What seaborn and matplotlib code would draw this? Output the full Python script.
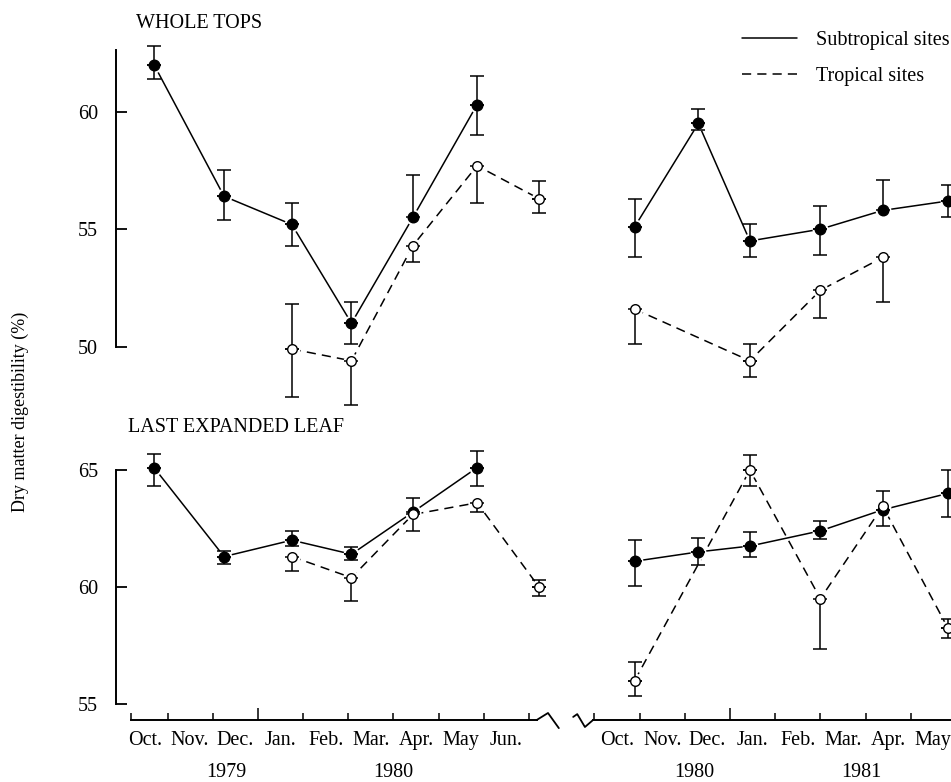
"""Dry matter digestibility of whole tops and last expanded leaf, two seasons."""

import numpy as np
import pandas as pd
import matplotlib
matplotlib.use("Agg")
import matplotlib.pyplot as plt
from matplotlib.lines import Line2D
import seaborn as sns

sns.set_theme(style="ticks", rc={
    "axes.edgecolor": "black", "text.color": "black", "xtick.color": "black",
    "ytick.color": "black", "axes.labelcolor": "black",
})
plt.rcParams["font.family"] = ["Liberation Serif", "DejaVu Serif"]

nan = np.nan

# ---------------------------------------------------------------------------
# Data
# ---------------------------------------------------------------------------
sites = ["Subtropical sites", "Tropical sites"]
months_79 = ["Oct.", "Nov.", "Dec.", "Jan.", "Feb.", "Mar.", "Apr.", "May", "Jun."]
months_80 = ["Oct.", "Nov.", "Dec.", "Jan.", "Feb.", "Mar.", "Apr.", "May"]
years_79 = ["1979", "1980"]
years_80 = ["1980", "1981"]

# sampling dates, in months after 1 October of each season
t_79 = [0.70, 2.25, 3.75, 5.07, 6.43, 7.85, 9.22]
t_80 = [0.89, 2.30, 3.44, 5.00, 6.38, 7.82]

# whole tops, 1979/80
wt_sub_79 = [62.0, 56.4, 55.2, 51.0, 55.5, 60.3, nan]
wt_sub_79_hi = [62.8, 57.5, 56.1, 51.9, 57.3, 61.5, nan]
wt_sub_79_lo = [61.4, 55.4, 54.3, 50.1, nan, 59.0, nan]
wt_trop_79 = [nan, nan, 49.9, 49.4, 54.3, 57.7, 56.3]
wt_trop_79_hi = [nan, nan, 51.8, nan, nan, nan, 57.05]
wt_trop_79_lo = [nan, nan, 47.85, 47.5, 53.6, 56.1, 55.7]

# whole tops, 1980/81
wt_sub_80 = [55.1, 59.5, 54.5, 55.0, 55.8, 56.2]
wt_sub_80_hi = [56.3, 60.1, 55.2, 56.0, 57.1, 56.9]
wt_sub_80_lo = [53.8, 59.2, 53.8, 53.9, nan, 55.5]
wt_trop_80 = [51.6, nan, 49.4, 52.4, 53.8, nan]
wt_trop_80_hi = [nan, nan, 50.1, nan, nan, nan]
wt_trop_80_lo = [50.1, nan, 48.7, 51.2, 51.9, nan]

# last expanded leaf, 1979/80
le_sub_79 = [65.1, 61.3, 62.0, 61.4, 63.2, 65.1, nan]
le_sub_79_hi = [65.7, 61.55, 62.4, 61.7, 63.8, 65.8, nan]
le_sub_79_lo = [64.3, 61.0, 61.75, 61.15, nan, 64.3, nan]
le_trop_79 = [nan, nan, 61.3, 60.4, 63.1, 63.6, 60.0]
le_trop_79_hi = [nan, nan, nan, nan, nan, nan, 60.3]
le_trop_79_lo = [nan, nan, 60.7, 59.4, 62.4, 63.2, 59.6]

# last expanded leaf, 1980/81
le_sub_80 = [61.1, 61.5, 61.75, 62.4, 63.3, 64.0]
le_sub_80_hi = [62.0, 62.1, 62.35, 62.8, 64.1, 65.0]
le_sub_80_lo = [60.05, 60.95, 61.3, 62.05, 62.6, 63.0]
le_trop_80 = [56.0, nan, 65.0, 59.5, 63.45, 58.25]
le_trop_80_hi = [56.8, nan, 65.65, nan, nan, 58.65]
le_trop_80_lo = [55.35, nan, 64.3, 57.35, nan, 57.8]

# ---------------------------------------------------------------------------
# Layout (pixels on a 951 x 782 canvas)
# ---------------------------------------------------------------------------
W, H = 951, 782
XLIM_79 = (-0.142, 9.73)
XLIM_80 = (-0.496, 7.89)
YLIM_TOP = (47.306, 63.051)
YLIM_BOT = (54.316, 66.282)
YEAR_POS_79 = [2.3, 6.0]
YEAR_POS_80 = [2.2, 5.9]
FS = 14.5


def _frame(records):
    parts = []
    for site, (t, v, hi, lo) in zip(sites, records):
        parts.append(pd.DataFrame({"month": t, "value": v, "hi": hi, "lo": lo, "site": site}))
    return pd.concat(parts, ignore_index=True)


def _axes(fig, x0, y0, x1, y1):
    return fig.add_axes([x0 / W, 1 - y1 / H, (x1 - x0) / W, (y1 - y0) / H])


def draw_series(ax, df):
    pts = df.dropna(subset=["value"])
    sns.lineplot(
        data=pts, x="month", y="value", style="site", style_order=sites,
        dashes={sites[0]: "", sites[1]: (6, 4)}, color="black", lw=1.1,
        estimator=None, legend=False, ax=ax, zorder=1,
    )
    # white halo so the lines stop just short of the symbols
    ax.scatter(pts["month"], pts["value"], s=130, color="white", lw=0, zorder=2, clip_on=False)

    up = pts.dropna(subset=["hi"])
    ax.errorbar(up["month"], up["value"], yerr=[np.zeros(len(up)), up["hi"] - up["value"]],
                fmt="none", ecolor="black", elinewidth=1.1, capsize=5, capthick=1.1,
                zorder=3, clip_on=False)
    dn = pts.dropna(subset=["lo"])
    ax.errorbar(dn["month"], dn["value"], yerr=[dn["value"] - dn["lo"], np.zeros(len(dn))],
                fmt="none", ecolor="black", elinewidth=1.1, capsize=5, capthick=1.1,
                zorder=3, clip_on=False)

    sub = pts[pts["site"] == sites[0]]
    trop = pts[pts["site"] == sites[1]]
    sns.scatterplot(data=sub, x="month", y="value", color="black", edgecolor="black",
                    s=58, linewidth=1, legend=False, ax=ax, zorder=4, clip_on=False)
    sns.scatterplot(data=trop, x="month", y="value", color="white", edgecolor="black",
                    s=48, linewidth=1, legend=False, ax=ax, zorder=4, clip_on=False)
    ax.set_xlabel("")
    ax.set_ylabel("")


def style_axes(ax, xlim, ylim, yticks=None, ybounds=None):
    ax.set_xlim(*xlim)
    ax.set_ylim(*ylim)
    ax.set_facecolor("none")
    for side in ("top", "right"):
        ax.spines[side].set_visible(False)
    if yticks is None:
        ax.spines["left"].set_visible(False)
        ax.set_yticks([])
    else:
        ax.set_yticks(yticks)
        ax.spines["left"].set_bounds(*ybounds)
        ax.spines["left"].set_linewidth(1.4)
        ax.tick_params(axis="y", direction="in", length=8, width=1.3, labelsize=FS, pad=13)


def month_axis(ax, months, years, year_pos, boundaries, bounds, zig):
    ax.spines["bottom"].set_bounds(*bounds)
    ax.spines["bottom"].set_linewidth(1.4)
    ax.set_xticks(boundaries)
    ax.set_xticklabels([])
    ax.set_xticks(np.arange(len(months)) + 0.5, labels=months, minor=True)
    ax.tick_params(axis="x", which="major", direction="in", length=5, width=1.1)
    ax.tick_params(axis="x", which="minor", length=0, labelsize=FS, pad=8)
    for tick in ax.xaxis.get_major_ticks():
        if abs(tick.get_loc() - 3) < 1e-6:  # start of the new year
            tick.tick1line.set_markersize(9)
    tr = ax.get_xaxis_transform()
    for yr, xp in zip(years, year_pos):
        ax.text(xp, -0.186, yr, transform=tr, ha="center", va="center", fontsize=FS)
    ax.plot(zig[0], zig[1], transform=tr, color="black", lw=1.3, clip_on=False)


fig = plt.figure(figsize=(W / 100, H / 100), dpi=100)
ax_tl = _axes(fig, 116, 40, 562, 410)
ax_tr = _axes(fig, 572, 40, 951, 410)
ax_bl = _axes(fig, 116, 440, 562, 720)
ax_br = _axes(fig, 572, 440, 951, 720)

draw_series(ax_tl, _frame([(t_79, wt_sub_79, wt_sub_79_hi, wt_sub_79_lo),
                           (t_79, wt_trop_79, wt_trop_79_hi, wt_trop_79_lo)]))
draw_series(ax_tr, _frame([(t_80, wt_sub_80, wt_sub_80_hi, wt_sub_80_lo),
                           (t_80, wt_trop_80, wt_trop_80_hi, wt_trop_80_lo)]))
draw_series(ax_bl, _frame([(t_79, le_sub_79, le_sub_79_hi, le_sub_79_lo),
                           (t_79, le_trop_79, le_trop_79_hi, le_trop_79_lo)]))
draw_series(ax_br, _frame([(t_80, le_sub_80, le_sub_80_hi, le_sub_80_lo),
                           (t_80, le_trop_80, le_trop_80_hi, le_trop_80_lo)]))

style_axes(ax_tl, XLIM_79, YLIM_TOP, [50, 55, 60], (50, 62.63))
style_axes(ax_tr, XLIM_80, YLIM_TOP)
style_axes(ax_bl, XLIM_79, YLIM_BOT, [55, 60, 65], (55, 65))
style_axes(ax_br, XLIM_80, YLIM_BOT)

for ax in (ax_tl, ax_tr):
    ax.spines["bottom"].set_visible(False)
    ax.set_xticks([])

month_axis(ax_bl, months_79, years_79, YEAR_POS_79,
           [0.19] + list(range(1, 10)), (0.19, 9.17),
           ([9.17, 9.42, 9.66], [0, 0.025, -0.029]))
month_axis(ax_br, months_80, years_80, YEAR_POS_80,
           list(range(0, 8)), (-0.03, XLIM_80[1]),
           ([-0.47, -0.38, -0.21, -0.03], [0.011, 0.021, -0.025, 0]))

fig.text(136 / W, 1 - 23 / H, "WHOLE TOPS", ha="left", va="center", fontsize=FS)
fig.text(128 / W, 1 - 428 / H, "LAST EXPANDED LEAF", ha="left", va="center", fontsize=FS)
fig.text(20 / W, 1 - 412 / H, "Dry matter digestibility (%)", rotation=90,
         ha="center", va="center", fontsize=13)

handles = [Line2D([], [], color="black", lw=1.1, ls="-"),
           Line2D([], [], color="black", lw=1.1, ls=(0, (6, 4)))]
fig.legend(handles, sites, loc="upper left", bbox_to_anchor=(742 / W, 1 - 31 / H),
           frameon=False, fontsize=FS, handlelength=2.75, handletextpad=0.9,
           labelspacing=0.85, borderpad=0, borderaxespad=0)

fig.savefig("out.png", dpi=100)
